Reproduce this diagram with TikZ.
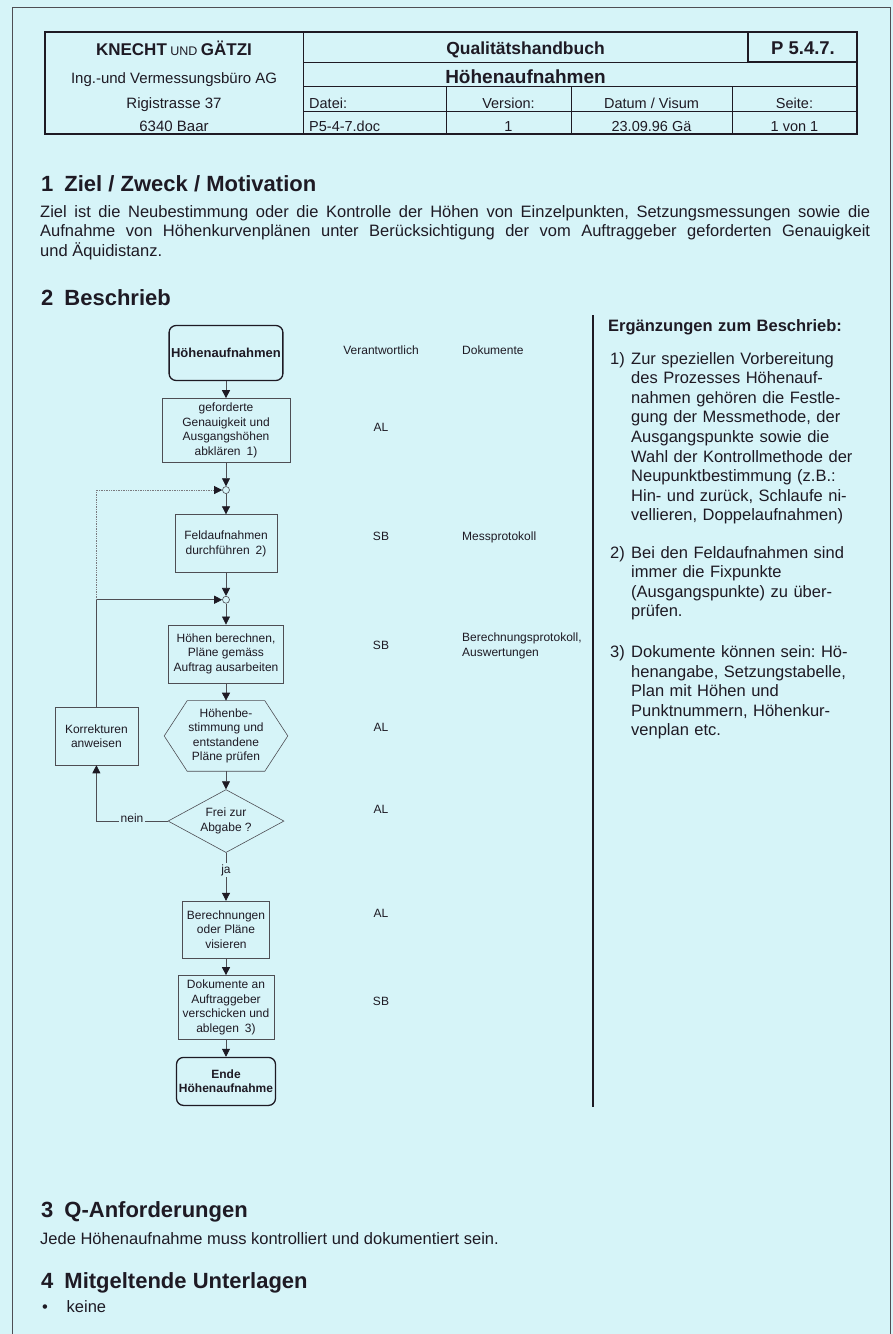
\documentclass[tikz,border=0pt]{standalone}
\usepackage{fontspec}
\setmainfont{Liberation Sans}
\usetikzlibrary{positioning,shapes.geometric,arrows.meta}
\definecolor{paper}{RGB}{214,244,248}
\definecolor{ink}{RGB}{30,26,36}
\definecolor{rule}{RGB}{78,78,84}
\newcommand{\fsz}[2]{\fontsize{#1}{#2}\selectfont}
\hyphenpenalty=10000
\exhyphenpenalty=10000
\hbadness=10000
\frenchspacing

\begin{document}
\begin{tikzpicture}[x=1pt, y=1pt,
    every node/.style={text=ink},
    box/.style={draw=rule, line width=0.6pt, align=center, inner sep=2pt, font=\fsz{12}{14.5}},
    hexnode/.style={box, draw=none},
    terminal/.style={box, draw=ink, line width=1.3pt, rounded corners=7pt, font=\bfseries\fsz{12}{14.5}},
    junction/.style={circle, draw=rule, line width=0.6pt, fill=paper, minimum size=7pt, inner sep=0pt},
    arr/.style={draw=rule, line width=0.7pt, -{Triangle[length=8pt,width=8pt,color=ink]}},
    lbl/.style={fill=paper, inner sep=1.5pt, font=\fsz{12}{14.5}},
    resp/.style={inner sep=0pt, text height=8.6pt, text depth=0pt, font=\fsz{12}{14.5}},
    heading/.style={anchor=base west, inner sep=0pt, font=\bfseries\fsz{22}{26}},
    body/.style={anchor=base west, inner sep=0pt, font=\fsz{16.5}{19.5}},
    note/.style={anchor=base west, inner sep=0pt, align=left, text width=255pt, font=\fsz{16.5}{19.6}},
    cell/.style={anchor=base, inner sep=0pt, font=\fsz{14.5}{17}}]

    % page
    \fill[paper] (0,0) rectangle (893,-1334);
    \useasboundingbox (0,0) rectangle (893,-1334);
    \draw[rule, line width=0.8pt] (12,-1334) -- (12,-7) -- (890,-7) -- (890,-1334);

    % header table
    \draw[ink, line width=1.5pt] (45,-32) rectangle (857,-134);
    \draw[ink, line width=0.9pt] (303,-32) -- (303,-134)
        (303,-62) -- (857,-62) (303,-86) -- (857,-86) (303,-111) -- (857,-111)
        (446,-86) -- (446,-134) (571,-86) -- (571,-134) (732,-86) -- (732,-134);
    \draw[ink, line width=2.2pt] (748,-32) rectangle (857,-62);
    \node[cell, font=\bfseries\fsz{17}{20}] (firm) at (174,-55) {KNECHT{\mdseries\fsz{12.5}{15} UND }GÄTZI};
    \node[cell, font=\fsz{15}{18}] (office) at (174,-83.5) {Ing.-und Vermessungsbüro AG};
    \node[cell, font=\fsz{15}{18}] (street) at (174,-108) {Rigistrasse 37};
    \node[cell, font=\fsz{15}{18}] (town) at (174,-131.5) {6340 Baar};
    \node[cell, font=\bfseries\fsz{17.5}{20}] (manual) at (525.5,-54) {Qualitätshandbuch};
    \node[cell, font=\bfseries\fsz{18.5}{21}] (code) at (803,-54) {P 5.4.7.};
    \node[cell, font=\bfseries\fsz{19}{22}] (title) at (525.5,-83.5) {Höhenaufnahmen};
    \node[cell, anchor=base west] (filehd) at (309,-108) {Datei:};
    \node[cell] (verhd) at (508.5,-108) {Version:};
    \node[cell] (datehd) at (651.5,-108) {Datum / Visum};
    \node[cell] (pagehd) at (794.5,-108) {Seite:};
    \node[cell, anchor=base west] (file) at (309,-131.5) {P5-4-7.doc};
    \node[cell] (ver) at (508.5,-131.5) {1};
    \node[cell] (date) at (651.5,-131.5) {23.09.96 Gä};
    \node[cell] (page) at (794.5,-131.5) {1 von 1};

    % section 1
    \node[heading] (sec1) at (41,-191) {1\hspace{11pt}Ziel / Zweck / Motivation};
    \node[body, text width=830pt, align=justify] (aim) at (40,-217) {Ziel ist die Neubestimmung oder die Kontrolle der Höhen von Einzelpunkten, Setzungsmessungen sowie die\linebreak
        Aufnahme von Höhenkurvenplänen unter Berücksichtigung der vom Auftraggeber geforderten Genauigkeit\linebreak
        und Äquidistanz.};

    % section 2
    \node[heading] (sec2) at (41,-305) {2\hspace{11pt}Beschrieb};

    % flow
    \node[terminal, font=\bfseries\fsz{13}{15}, minimum width=108pt, minimum height=55pt] (start) at (226,-353) {Höhenaufnahmen};
    \node[box, below=17pt of start, minimum width=128pt, minimum height=64pt] (clarify) {geforderte\\Genauigkeit und\\Ausgangshöhen\\abklären\hspace{6pt}1)};
    \node[junction, below=23.5pt of clarify] (j1) {};
    \node[box, below=20.5pt of j1, minimum width=102pt, minimum height=58pt] (field) {Feldaufnahmen\\durchführen\hspace{6pt}2)};
    \node[junction, below=23pt of field] (j2) {};
    \node[box, below=21pt of j2, minimum width=115pt, minimum height=58pt] (compute) {Höhen berechnen,\\Pläne gemäss\\Auftrag ausarbeiten};
    \node[hexnode, below=17.5pt of compute, minimum width=123pt, minimum height=70pt] (check) {Höhenbe-\\stimmung und\\entstandene\\Pläne prüfen};
    \draw[draw=rule, line width=0.6pt] (check.west) -- ([xshift=23pt]check.north west) -- ([xshift=-23pt]check.north east)
        -- (check.east) -- ([xshift=-23pt]check.south east) -- ([xshift=23pt]check.south west) -- cycle;
    \node[box, diamond, aspect=1.84, inner sep=0pt, below=18pt of check, minimum width=116pt, minimum height=63pt] (release) {Frei zur\\Abgabe ?};
    \node[box, below=48pt of release, minimum width=87pt, minimum height=57pt] (visa) {Berechnungen\\oder Pläne\\visieren};
    \node[box, below=16.7pt of visa, minimum width=96pt, minimum height=64pt] (send) {Dokumente an\\Auftraggeber\\verschicken und\\ablegen\hspace{6pt}3)};
    \node[terminal, below=17pt of send, minimum width=99pt, minimum height=48pt] (finish) {Ende\\Höhenaufnahme};
    \node[box, left=26pt of check, minimum width=83pt, minimum height=58pt] (fix) {Korrekturen\\anweisen};
    \coordinate (loop) at (fix.north |- j2);

    \draw[arr] (start) -- (clarify);
    \draw[arr] (clarify) -- (j1);
    \draw[arr] (j1) -- (field);
    \draw[arr] (field) -- (j2);
    \draw[arr] (j2) -- (compute);
    \draw[arr] (compute) -- (check);
    \draw[arr] (check) -- (release);
    \draw[arr] (release) -- node[lbl, pos=0.36] {ja} (visa);
    \draw[arr] (visa) -- (send);
    \draw[arr] (send) -- (finish);
    \draw[arr] (release.west) -| node[lbl, pos=0.25, yshift=3pt] {nein} (fix.south);
    \draw[arr] (fix.north) -- (loop) -- (j2);
    \draw[arr, densely dotted, draw=rule!75] (loop) |- (j1);

    % columns
    \node[resp] (resphd) at (381,-350) {Verantwortlich};
    \node[resp, anchor=west] (dochd) at (462,-350) {Dokumente};
    \node[resp] (r1) at (381,-427) {AL};
    \node[resp] (r2) at (381,-536) {SB};
    \node[resp] (r3) at (381,-645) {SB};
    \node[resp] (r4) at (381,-727) {AL};
    \node[resp] (r5) at (381,-809) {AL};
    \node[resp] (r6) at (381,-913) {AL};
    \node[resp] (r7) at (381,-1001) {SB};
    \node[resp, anchor=west] (d2) at (462,-536) {Messprotokoll};
    \node[anchor=west, inner sep=0pt, align=left, font=\fsz{12}{15}] (d3) at (462,-646) {Berechnungsprotokoll,\\Auswertungen};

    % notes
    \draw[ink, line width=2pt] (593,-315) -- (593,-1107);
    \node[note, font=\bfseries\fsz{16.5}{19.6}] (notehd) at (608,-331) {Ergänzungen zum Beschrieb:};
    \node[note, text width=20pt] (n1) at (610,-364) {1)};
    \node[note] (t1) at (631,-364) {Zur speziellen Vorbereitung\\des Prozesses Höhenauf-\\nahmen gehören die Festle-\\gung der Messmethode, der\\Ausgangspunkte sowie die\\Wahl der Kontrollmethode der\\Neupunktbestimmung (z.B.:\\Hin- und zurück, Schlaufe ni-\\vellieren, Doppelaufnahmen)};
    \node[note, text width=20pt] (n2) at (610,-558) {2)};
    \node[note] (t2) at (631,-558) {Bei den Feldaufnahmen sind\\immer die Fixpunkte\\(Ausgangspunkte) zu über-\\prüfen.};
    \node[note, text width=20pt] (n3) at (610,-657.5) {3)};
    \node[note] (t3) at (631,-657.5) {Dokumente können sein: Hö-\\henangabe, Setzungstabelle,\\Plan mit Höhen und\\Punktnummern, Höhenkur-\\venplan etc.};

    % sections 3 and 4
    \node[heading] (sec3) at (41,-1217) {3\hspace{11pt}Q-Anforderungen};
    \node[body] (req) at (40,-1244) {Jede Höhenaufnahme muss kontrolliert und dokumentiert sein.};
    \node[heading] (sec4) at (41,-1288) {4\hspace{11pt}Mitgeltende Unterlagen};
    \node[body] (dot) at (42,-1312.5) {•};
    \node[body] (none) at (66.5,-1312.5) {keine};
\end{tikzpicture}
\end{document}
